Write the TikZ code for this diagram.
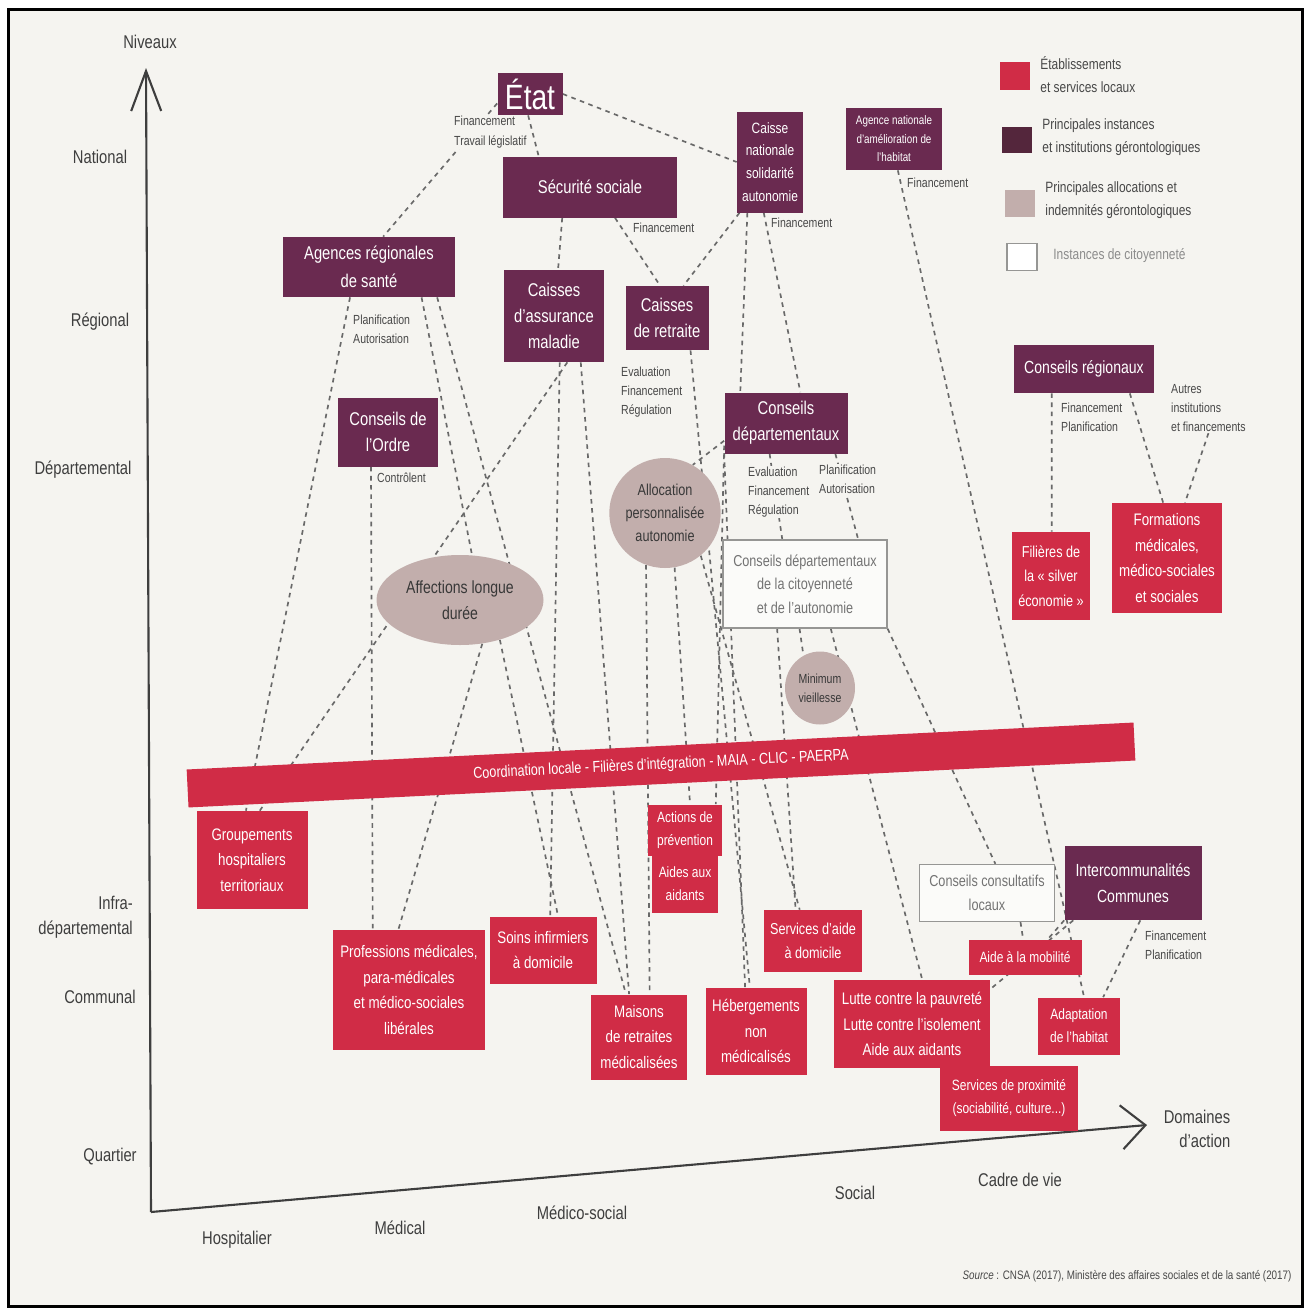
\documentclass[tikz,border=0pt]{standalone}
\usepackage{fontspec}
\setmainfont{Liberation Sans}[FakeStretch=0.8]
\usetikzlibrary{arrows.meta,shapes.geometric,backgrounds}
\definecolor{page}{RGB}{245,244,240}
\definecolor{localred}{RGB}{208,44,70}
\definecolor{instplum}{RGB}{106,42,80}
\definecolor{instdark}{RGB}{84,38,60}
\definecolor{allocsand}{RGB}{194,174,172}
\definecolor{citoygrey}{RGB}{150,150,148}
\definecolor{linkgrey}{RGB}{105,105,105}
\definecolor{axisgrey}{RGB}{62,62,62}
\definecolor{notegrey}{RGB}{72,72,72}

\tikzset{
  inst/.style={rectangle,fill=instplum,text=white,align=center,inner sep=1pt,font=\fontsize{10.5}{15}\selectfont},
  local/.style={rectangle,fill=localred,text=white,align=center,inner sep=1pt,font=\fontsize{9.5}{14.5}\selectfont},
  alloc/.style={ellipse,fill=allocsand,text=black!78,align=center,inner sep=0pt},
  citoy/.style={rectangle,draw=citoygrey,line width=0.7pt,fill=white!60!page,text=black!55,align=center,inner sep=1pt,font=\fontsize{9}{13.5}\selectfont},
  note/.style={text=notegrey,fill=page,align=left,anchor=west,inner sep=0.5pt,font=\fontsize{7.5}{11}\selectfont},
  niveau/.style={text=axisgrey,font=\fontsize{10.5}{14}\selectfont},
  legende/.style={text=notegrey,align=left,anchor=west,inner sep=0pt,font=\fontsize{8.5}{13}\selectfont},
  lien/.style={linkgrey,line width=0.95pt,dash pattern=on 2.6pt off 2.6pt},
  axe/.style={axisgrey,line width=1.2pt},
}

\begin{document}
\begin{tikzpicture}[x=0.2mm,y=-0.2mm]
\useasboundingbox (0,0) rectangle (1308,1315);

% axes
\coordinate (origine) at (151,1212);
\coordinate (ysommet) at (146,68);
\coordinate (xbout) at (1147,1125);
\draw[axe,-{Straight Barb[length=8mm,width=6mm]}] (origine) -- (ysommet);
\draw[axe,-{Straight Barb[length=4.8mm,width=8.8mm]}] (origine) -- (xbout);

\node[niveau] (niveaux) at (150,42) {Niveaux};
\node[niveau] (national) at (100,157) {National};
\node[niveau] (regional) at (100,322) {Régional};
\node[niveau] (departemental) at (83,470) {Départemental};
\node[niveau,align=right,anchor=east] (infra) at (139,917) {Infra-\\départemental};
\node[niveau] (communal) at (100,997) {Communal};
\node[niveau] (quartier) at (110,1157) {Quartier};
\node[niveau] (hospitalier) at (237,1240) {Hospitalier};
\node[niveau] (medical) at (400,1228) {Médical};
\node[niveau] (medicosocial) at (582,1213) {Médico-social};
\node[niveau] (social) at (855,1193) {Social};
\node[niveau] (cadre) at (1020,1180) {Cadre de vie};
\node[niveau,align=right] (domaines) at (1197,1129) {Domaines\\d'action};
\node[note,fill=none,anchor=center,font=\fontsize{7}{8}\selectfont] (source) at (1127,1276) {\textit{Source} : CNSA (2017), Ministère des affaires sociales et de la santé (2017)};

% legende
\node[fill=localred,minimum width=6mm,minimum height=5.6mm,inner sep=0pt] (cle1) at (1015,76) {};
\node[fill=instdark,minimum width=6mm,minimum height=5.2mm,inner sep=0pt] (cle2) at (1017,140) {};
\node[fill=allocsand,minimum width=6mm,minimum height=5.4mm,inner sep=0pt] (cle3) at (1020,203) {};
\node[draw=citoygrey,fill=white,line width=0.7pt,minimum width=6mm,minimum height=5.4mm,inner sep=0pt] (cle4) at (1022,257) {};
\node[legende] (leg1) at (1040,75) {Établissements\\et services locaux};
\node[legende] (leg2) at (1042,137) {Principales instances\\et institutions gérontologiques};
\node[legende] (leg3) at (1045,200) {Principales allocations et\\indemnités gérontologiques};
\node[legende,text=black!45] (leg4) at (1053,256) {Instances de citoyenneté};

% instances et institutions
\node[inst,minimum width=13mm,minimum height=8.4mm,font=\fontsize{20}{22}\selectfont] (etat) at (530,94) {État};
\node[inst,minimum width=34.8mm,minimum height=12.2mm] (secu) at (590,187) {Sécurité sociale};
\node[inst,minimum width=13.2mm,minimum height=20.2mm,font=\fontsize{8.5}{13}\selectfont] (cnsa) at (770,162) {Caisse\\nationale\\solidarité\\autonomie};
\node[inst,minimum width=19.2mm,minimum height=12.4mm,font=\fontsize{7}{10.5}\selectfont] (anah) at (894,139) {Agence nationale\\d'amélioration de\\l'habitat};
\node[inst,minimum width=34.4mm,minimum height=12mm,font=\fontsize{10.5}{16}\selectfont] (ars) at (369,267) {Agences régionales\\de santé};
\node[inst,minimum width=20mm,minimum height=18.4mm] (cam) at (554,316) {Caisses\\d'assurance\\maladie};
\node[inst,minimum width=16.6mm,minimum height=12.8mm] (retraite) at (667,318) {Caisses\\de retraite};
\node[inst,minimum width=20mm,minimum height=13.8mm] (ordre) at (388,432) {Conseils de\\l'Ordre};
\node[inst,minimum width=24.6mm,minimum height=12.2mm] (cdep) at (786,423) {Conseils\\départementaux};
\node[inst,minimum width=28mm,minimum height=9.6mm,font=\fontsize{10}{15}\selectfont] (creg) at (1084,369) {Conseils régionaux};
\node[inst,minimum width=27.4mm,minimum height=14.8mm,font=\fontsize{10}{15}\selectfont] (interco) at (1133,883) {Intercommunalités\\Communes};

% allocations
\node[alloc,minimum width=21.8mm,minimum height=22mm,font=\fontsize{9}{13}\selectfont] (apa) at (665,513) {Allocation\\personnalisée\\autonomie};
\node[alloc,minimum width=33.4mm,minimum height=18mm,font=\fontsize{10}{15}\selectfont] (ald) at (460,600) {Affections longue\\durée};
\node[alloc,minimum width=14mm,minimum height=14.6mm,font=\fontsize{7.5}{11}\selectfont] (minvieil) at (820,688) {Minimum\\vieillesse};

% citoyennete
\node[citoy,minimum width=32.8mm,minimum height=17.6mm] (cdca) at (805,584) {Conseils départementaux\\de la citoyenneté\\et de l'autonomie};
\node[citoy,minimum width=27mm,minimum height=11.4mm] (ccl) at (987,893) {Conseils consultatifs\\locaux};

% etablissements et services locaux
\node[local,minimum width=189.6mm,minimum height=7.6mm,rotate=2.84,font=\fontsize{9}{11}\selectfont] (coord) at (661,765) {Coordination locale - Filières d'intégration - MAIA - CLIC - PAERPA};
\node[local,minimum width=22.2mm,minimum height=19.6mm] (ght) at (252,860) {Groupements\\hospitaliers\\territoriaux};
\node[local,minimum width=30.4mm,minimum height=24mm] (liberaux) at (409,990) {Professions médicales,\\para-médicales\\et médico-sociales\\libérales};
\node[local,minimum width=21.4mm,minimum height=13.4mm] (ssiad) at (543,950) {Soins infirmiers\\à domicile};
\node[local,minimum width=14.8mm,minimum height=10.2mm,font=\fontsize{8.5}{13}\selectfont] (prevention) at (685,830) {Actions de\\prévention};
\node[local,minimum width=13.2mm,minimum height=11.6mm,font=\fontsize{8.5}{13}\selectfont] (aidants) at (685,884) {Aides aux\\aidants};
\node[local,minimum width=19.2mm,minimum height=17mm] (ehpad) at (639,1037) {Maisons\\de retraites\\médicalisées};
\node[local,minimum width=20.2mm,minimum height=17.4mm] (hebergement) at (756,1031) {Hébergements\\non\\médicalisés};
\node[local,minimum width=19.6mm,minimum height=12.4mm,font=\fontsize{9}{14}\selectfont] (saad) at (813,941) {Services d'aide\\à domicile};
\node[local,minimum width=31.2mm,minimum height=17.6mm] (lutte) at (912,1024) {Lutte contre la pauvreté\\Lutte contre l'isolement\\Aide aux aidants};
\node[local,minimum width=22.6mm,minimum height=7mm,font=\fontsize{8.5}{13}\selectfont] (mobilite) at (1025,957) {Aide à la mobilité};
\node[local,minimum width=16.4mm,minimum height=11.4mm,font=\fontsize{8.5}{13}\selectfont] (habitat) at (1079,1026) {Adaptation\\de l'habitat};
\node[local,minimum width=27.6mm,minimum height=13mm,font=\fontsize{8.5}{13}\selectfont] (proximite) at (1009,1098) {Services de proximité\\(sociabilité, culture...)};
\node[local,minimum width=15.6mm,minimum height=17.6mm,font=\fontsize{9}{14}\selectfont] (silver) at (1051,576) {Filières de\\la « silver\\économie »};
\node[local,minimum width=22mm,minimum height=22mm] (formations) at (1167,558) {Formations\\médicales,\\médico-sociales\\et sociales};

% etiquettes des liens
\node[note] (finEtat) at (453,132) {Financement\\Travail législatif};
\node[note] (finSecu) at (632,228) {Financement};
\node[note] (finCnsa) at (770,223) {Financement};
\node[note] (finAnah) at (906,183) {Financement};
\node[note] (planArs) at (352,329) {Planification\\Autorisation};
\node[note] (evalRetraite) at (620,392) {Evaluation\\Financement\\Régulation};
\node[note] (controle) at (376,478) {Contrôlent};
\node[note] (evalCdep) at (747,492) {Evaluation\\Financement\\Régulation};
\node[note] (planCdep) at (818,479) {Planification\\Autorisation};
\node[note] (finCreg) at (1060,417) {Financement\\Planification};
\node[note] (autres) at (1170,408) {Autres\\institutions\\et financements};
\node[note] (finInterco) at (1144,945) {Financement\\Planification};

\begin{scope}[on background layer]
\fill[white] (0,0) rectangle (1308,1315);
\fill[page] (8,9) rectangle (1302,1306);
\draw[black,line width=0.6mm] (8,9) rectangle (1302,1306);
% national
\draw[lien] (etat.196) -- (ars.65);
\draw[lien] (etat.265) -- (secu.149);
\draw[lien] (etat.east) -- (cnsa.west);
\draw[lien] (secu.228) -- (cam.85);
\draw[lien] (secu.309) -- (retraite.102);
\draw[lien] (cnsa.239) -- (retraite.63);
\draw[lien] (cnsa.246) -- (cdep.146);
\draw[lien] (cnsa.263) -- (cdep.65);
\draw[lien] (anah.277) -- (habitat.80);
% regional
\draw[lien] (ars.238) -- (ght.97);
\draw[lien] (ars.330) -- (ald.75);
\draw[lien] (ars.336) -- (ehpad.107);
\draw[lien] (cam.286) -- (ght.81);
\draw[lien] (cam.277) -- (ssiad.78);
\draw[lien] (cam.300) -- (ehpad.103);
\draw[lien] (ald.297) -- (liberaux.100);
\draw[lien] (ald.315) -- (ssiad.66);
\draw[lien] (ordre.244) -- (liberaux.121);
\draw[lien] (retraite.306) -- (hebergement.98);
% departemental
\draw[lien] (cdep.196) -- (apa.60);
\draw[lien] (cdep.206) -- (hebergement.104);
\draw[lien] (cdep.200) -- (prevention.40);
\draw[lien] (cdep.242) -- (cdca.117);
\draw[lien] (cdep.328) -- (cdca.40);
\draw[lien] (apa.250) -- (ehpad.76);
\draw[lien] (apa.280) -- (prevention.79);
\draw[lien] (apa.310) -- (saad.113);
\draw[lien] (cdca.238) -- (saad.119);
\draw[lien] (cdca.263) -- (minvieil.117);
\draw[lien] (cdca.300) -- (lutte.77);
\draw[lien] (cdca.south east) -- (ccl.74);
% communal
\draw[lien] (ccl.319) -- (mobilite.96);
\draw[lien] (interco.south west) -- (mobilite.38);
\draw[lien] (interco.212) -- (lutte.24);
\draw[lien] (interco.281) -- (habitat.50);
\draw[lien] (creg.217) -- (silver.89);
\draw[lien] (creg.332) -- (formations.94);
\draw[lien] (autres.south) -- (formations.72);
\end{scope}
\end{tikzpicture}
\end{document}
